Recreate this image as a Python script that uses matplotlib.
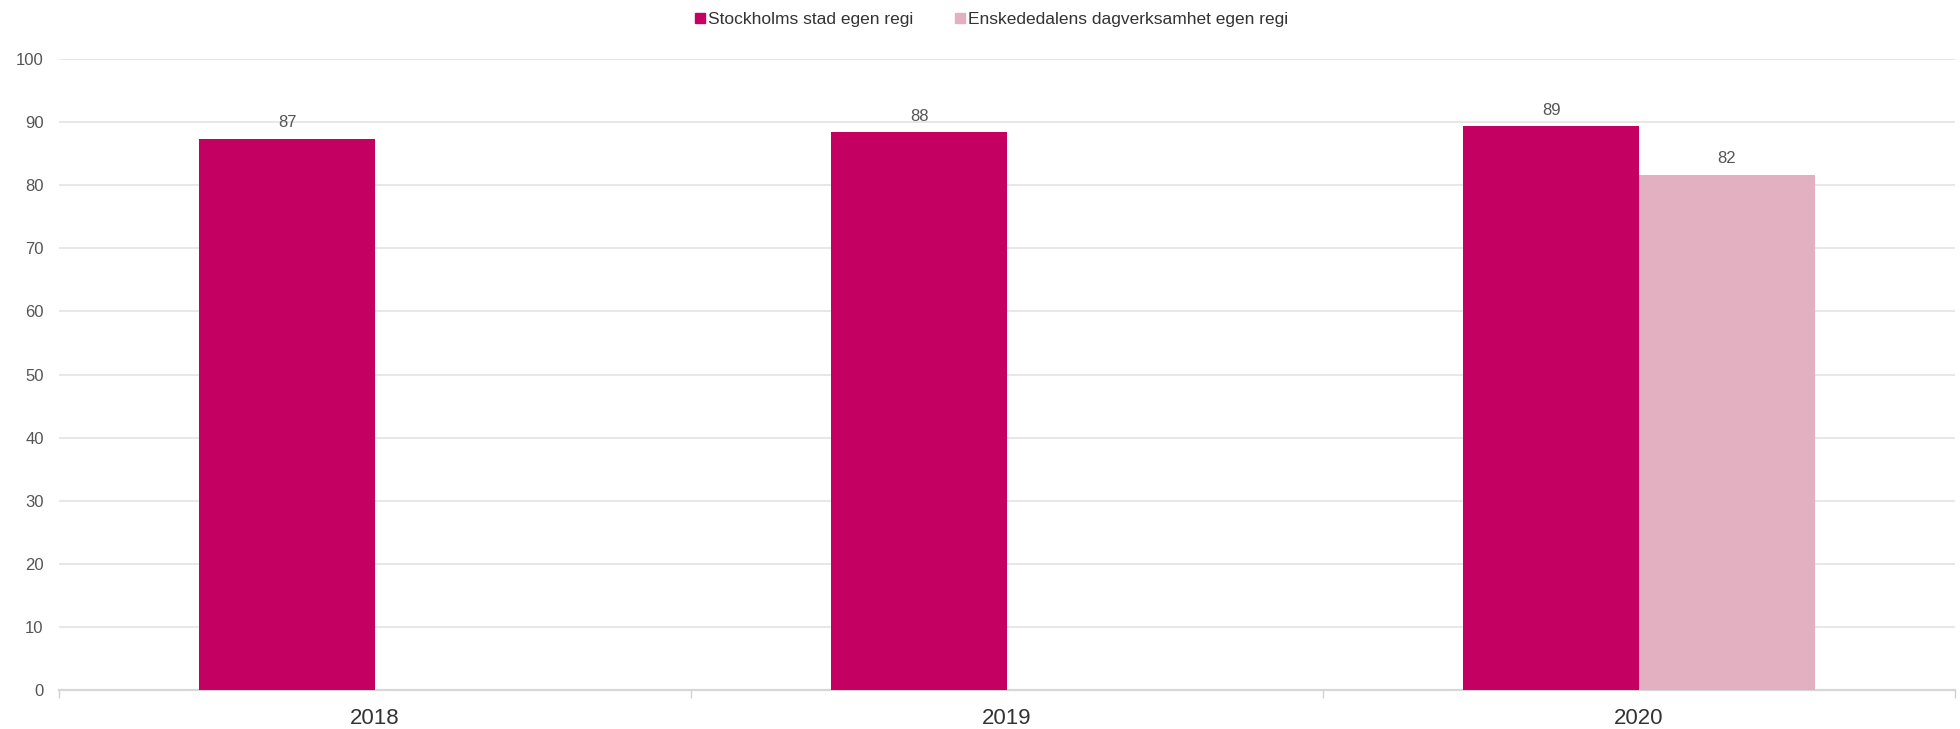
import numpy as np
import matplotlib.pyplot as plt
from matplotlib.lines import Line2D

plt.rcParams['font.family'] = ['Liberation Sans', 'DejaVu Sans']

years = ['2018', '2019', '2020']
series_names = ['Stockholms stad egen regi', 'Enskededalens dagverksamhet egen regi']
stockholm = [87.4, 88.4, 89.4]
enskede = [np.nan, np.nan, 81.7]
colors = ['#c40062', '#e3b0c1']

fig = plt.figure(figsize=(19.6, 7.29), dpi=100)
ax = fig.add_axes([0.0301, 0.0535, 0.9673, 0.8655])

x = np.arange(len(years))
w = 0.278
for vals, off, col in [(stockholm, -w / 2, colors[0]), (enskede, w / 2, colors[1])]:
    bars = ax.bar(x + off, vals, width=w, color=col, zorder=3)
    for b, v in zip(bars, vals):
        if np.isnan(v):
            continue
        ax.annotate(f'{v:.0f}', (b.get_x() + b.get_width() / 2, v),
                    xytext=(0, 6), textcoords='offset points',
                    ha='center', va='bottom', fontsize=12, color='#555555')

ax.set_xlim(-0.5, 2.5)
ax.set_ylim(0, 100)
ax.set_yticks(range(0, 101, 10))
ax.grid(axis='y', color='#e3e3e3', linewidth=1.2, zorder=0)
ax.tick_params(axis='y', length=0, pad=11, labelsize=12, labelcolor='#555555')

# category boundaries as tick marks, labels on the centres
ax.set_xticks([-0.5, 0.5, 1.5, 2.5])
ax.set_xticklabels([])
ax.set_xticks(x, minor=True)
ax.set_xticklabels(years, minor=True)
ax.tick_params(axis='x', which='major', length=6, color='#d0d0d0', width=1)
ax.tick_params(axis='x', which='minor', length=0, pad=13, labelsize=16, labelcolor='#333333')

for s in ['top', 'right', 'left']:
    ax.spines[s].set_visible(False)
ax.spines['bottom'].set_color('#d6d6d6')
ax.spines['bottom'].set_linewidth(1.6)

handles = [Line2D([], [], marker='s', linestyle='none', markersize=7.2,
                  markerfacecolor=c, markeredgecolor=c) for c in colors]
fig.legend(handles, series_names, loc='upper center', bbox_to_anchor=(0.506, 1.005),
           ncol=2, frameon=False, fontsize=12.5, handlelength=0.6, handletextpad=0.15,
           columnspacing=2.4, labelcolor='#333333')

fig.savefig('out.png', dpi=100, facecolor='white')
